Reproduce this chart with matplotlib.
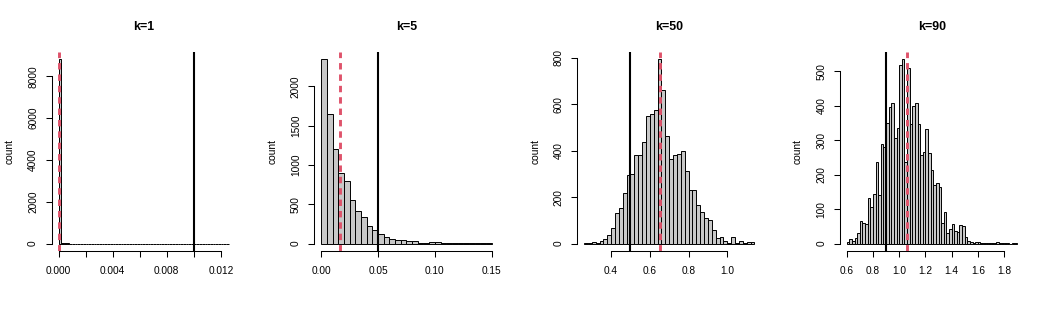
import numpy as np
import matplotlib
matplotlib.use("Agg")
import matplotlib.pyplot as plt

plt.rcParams['font.family'] = ['Liberation Sans', 'DejaVu Sans']

titles = ["k=1", "k=5", "k=50", "k=90"]

# histogram: first break, bin width, counts per bin
k1_start, k1_width = 0.0, 0.0002
k1_counts = [8814,
             14, 9, 8, 6, 5, 5, 4, 4, 4, 3,
             3, 3, 3, 3, 2, 2, 2, 2, 2, 2,
             2, 2, 2, 2, 1, 1, 1, 1, 1, 1,
             1, 1, 1, 1, 1, 1, 1, 1, 1, 1,
             1, 1, 1, 1, 1, 1, 1, 1, 1, 1,
             1, 1, 1, 1, 1, 1, 1, 1, 1, 1,
             1, 1]

k5_start, k5_width = 0.0, 0.005
k5_counts = [2342, 1645, 1201, 900, 795, 554, 419, 338, 224, 173,
             118, 89, 63, 40, 47, 34, 28, 12, 12, 20,
             16, 8, 7, 6, 5, 4, 5, 3, 4, 3]

k50_start, k50_width = 0.26, 0.02
k50_counts = [3, 3, 7, 4, 11, 20, 37, 67, 132, 155,
              218, 294, 301, 380, 384, 436, 552, 558, 575, 794,
              662, 463, 364, 380, 387, 399, 313, 231, 231, 166,
              138, 110, 103, 60, 26, 29, 11, 4, 30, 3,
              11, 3, 9, 6]

k90_start, k90_width = 0.6, 0.02
k90_counts = [6, 13, 9, 17, 31, 66, 61, 58, 131, 106,
              143, 236, 142, 288, 280, 350, 396, 408, 305, 334,
              518, 534, 236, 510, 348, 398, 408, 347, 258, 266,
              332, 262, 212, 170, 175, 163, 59, 92, 30, 43,
              57, 36, 34, 55, 52, 19, 8, 5, 3, 6,
              5, 3, 1, 2, 1, 2, 1, 6, 2, 1,
              1, 1, 0, 1, 1]

starts = [k1_start, k5_start, k50_start, k90_start]
widths = [k1_width, k5_width, k50_width, k90_width]
counts = [k1_counts, k5_counts, k50_counts, k90_counts]

# reference value (black) and mean of estimates (red dashed)
true_vals = [0.01, 0.05, 0.5, 0.9]
mean_vals = [0.00003, 0.0168, 0.653, 1.059]

x_ticks = [[0.0, 0.002, 0.004, 0.006, 0.008, 0.010, 0.012],
           [0.0, 0.05, 0.10, 0.15],
           [0.4, 0.6, 0.8, 1.0],
           [0.6, 0.8, 1.0, 1.2, 1.4, 1.6, 1.8]]
x_labels = [["0.000", "", "0.004", "", "0.008", "", "0.012"],
            ["0.00", "0.05", "0.10", "0.15"],
            ["0.4", "0.6", "0.8", "1.0"],
            ["0.6", "0.8", "1.0", "1.2", "1.4", "1.6", "1.8"]]
y_ticks = [[0, 2000, 4000, 6000, 8000],
           [0, 500, 1000, 1500, 2000],
           [0, 200, 400, 600, 800],
           [0, 100, 200, 300, 400, 500]]

W, H = 1051, 316
fig = plt.figure(figsize=(W / 100, H / 100), dpi=100)
fig.patch.set_facecolor("white")

for i in range(4):
    left = 51.7 + 262.75 * i
    ax = fig.add_axes([left / W, 65 / H, 184 / W, 199 / H])
    c = np.array(counts[i])
    lefts = starts[i] + widths[i] * np.arange(len(c))
    ax.bar(lefts, c, width=widths[i], align="edge", color="#C8C8C8",
           edgecolor="black", linewidth=0.7, zorder=2)
    ax.axvline(true_vals[i], color="black", lw=1.5, zorder=3)
    ax.axvline(mean_vals[i], color="#DF536B", lw=2.1, ls=(0, (2.2, 1.7)), zorder=4)

    lo, hi = lefts[0], lefts[-1] + widths[i]
    r = hi - lo
    ax.set_xlim(lo - 0.04 * r, hi + 0.04 * r)
    ymax = c.max()
    ax.set_ylim(-0.04 * ymax, 1.04 * ymax)

    ax.set_xticks(x_ticks[i])
    ax.set_xticklabels(x_labels[i])
    ax.set_yticks(y_ticks[i])
    ax.set_yticklabels([str(v) for v in y_ticks[i]], rotation=90, va="center")
    ax.tick_params(axis="both", length=4.3, width=0.75, labelsize=7.3, color="black")
    ax.tick_params(axis="x", pad=6.5)
    ax.tick_params(axis="y", pad=5.5)

    for s in ["top", "right"]:
        ax.spines[s].set_visible(False)
    ax.spines["left"].set_bounds(y_ticks[i][0], y_ticks[i][-1])
    ax.spines["bottom"].set_bounds(x_ticks[i][0], x_ticks[i][-1])
    ax.spines["left"].set_linewidth(0.75)
    ax.spines["bottom"].set_linewidth(0.75)

    ax.text(0.5, 1 + (52 - 26.7) / 199, titles[i], transform=ax.transAxes,
            ha="center", va="center", fontweight="bold", fontsize=8.9)
    ax.text(-0.228, 0.5, "count", transform=ax.transAxes, rotation=90,
            ha="center", va="center", fontsize=7.4)

fig.savefig("out.png", dpi=100)
